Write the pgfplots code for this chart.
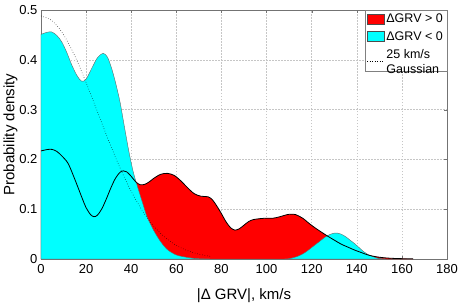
\documentclass[border=0pt]{standalone}
\usepackage{fontspec}
\setmainfont{Liberation Sans}
\usepackage{pgfplots}
\pgfplotsset{compat=1.18}
\definecolor{mred}{rgb}{1,0,0}
\definecolor{mcyan}{rgb}{0,1,1}
\begin{document}
\begin{tikzpicture}
\begin{axis}[
  scale only axis, width=406pt, height=249pt,
  xmin=0, xmax=180, ymin=0, ymax=0.5,
  xtick={0,20,40,60,80,100,120,140,160,180},
  ytick={0,0.1,0.2,0.3,0.4,0.5},
  grid=major,
  grid style={gray!45, dash pattern=on 1.5pt off 1.5pt, line width=0.4pt},
  axis line style={black!55},
  tick style={black!55}, tick align=inside, major tick length=3pt,
  ticklabel style={font=\fontsize{13}{15}\selectfont},
  xticklabel style={yshift=-2pt},
  /pgf/number format/assume math mode=true,
  yticklabel style={/pgf/number format/fixed, /pgf/number format/precision=1},
  xlabel={|Δ GRV|, km/s},
  ylabel={Probability density},
  label style={font=\fontsize{15}{18}\selectfont},
  xlabel style={yshift=-8pt},
  ylabel style={yshift=-5pt},
  legend cell align=left,
  legend style={at={(rel axis cs:1,1)}, anchor=north east,
    draw=black!50, font=\fontsize{12.5}{14}\selectfont, inner sep=2pt, row sep=3pt},
]
% red: density for Delta GRV > 0 (filled)
\addplot[fill=mred, draw=none, smooth,
  legend image code/.code={\draw[fill=mred, draw=black!70, line width=0.4pt] (0pt,-5pt) rectangle (17pt,5pt);}]
table {
x y
0 0.217
3 0.220
5 0.220
7 0.216
9 0.208
12 0.192
15 0.160
18 0.125
20 0.103
22 0.089
23.5 0.085
25 0.088
27 0.101
29 0.121
31 0.143
33 0.162
35 0.174
36.5 0.177
38 0.175
40 0.166
42 0.155
44 0.149
46 0.150
48 0.155
50 0.162
53 0.170
56 0.172
59 0.168
62 0.157
65 0.143
68 0.131
71 0.126
74 0.125
76 0.119
78 0.106
80 0.091
82 0.075
84 0.063
86 0.058
88 0.061
90 0.068
92 0.075
94 0.079
97 0.081
100 0.082
103 0.082
106 0.085
109 0.089
111 0.090
113 0.089
116 0.082
119 0.071
122 0.061
125 0.052
127.4 0.045
130 0.038
133 0.030
136 0.024
139 0.018
142 0.013
145 0.008
148 0.005
151 0.003
155 0.0015
160 0.0007
165 0.0003
} \closedcycle;
\addlegendentry{ΔGRV > 0}
% cyan: density for Delta GRV < 0
\addplot[fill=mcyan, draw=black!60, line width=0.4pt, smooth,
  legend image code/.code={\draw[fill=mcyan, draw=black!70, line width=0.4pt] (0pt,-5pt) rectangle (17pt,5pt);}]
table {
x y
0 0.451
2.5 0.455
4.7 0.456
7 0.449
9.2 0.436
11.5 0.414
13.6 0.390
16 0.368
18 0.357
20 0.361
22.5 0.383
25 0.404
27.6 0.413
29.5 0.405
31.3 0.383
33 0.355
35 0.316
37 0.265
39 0.215
41 0.173
43 0.142
45 0.113
47 0.085
50 0.057
53 0.035
56 0.019
60 0.008
65 0.003
70 0.0005
75 0
90 0
108 0
110 0.001
113 0.004
116 0.010
118 0.016
120 0.023
122 0.030
124 0.037
126 0.044
128 0.049
130 0.052
131.5 0.052
133 0.050
135 0.045
137 0.038
139 0.031
141 0.023
143 0.015
145 0.009
147 0.005
149 0.002
151 0.0005
153 0
} \closedcycle;
\addlegendentry{ΔGRV < 0}
% black outline of the positive density
\addplot[black, line width=0.8pt, smooth, forget plot]
table {
x y
0 0.217
3 0.220
5 0.220
7 0.216
9 0.208
12 0.192
15 0.160
18 0.125
20 0.103
22 0.089
23.5 0.085
25 0.088
27 0.101
29 0.121
31 0.143
33 0.162
35 0.174
36.5 0.177
38 0.175
40 0.166
42 0.155
44 0.149
46 0.150
48 0.155
50 0.162
53 0.170
56 0.172
59 0.168
62 0.157
65 0.143
68 0.131
71 0.126
74 0.125
76 0.119
78 0.106
80 0.091
82 0.075
84 0.063
86 0.058
88 0.061
90 0.068
92 0.075
94 0.079
97 0.081
100 0.082
103 0.082
106 0.085
109 0.089
111 0.090
113 0.089
116 0.082
119 0.071
122 0.061
125 0.052
127.4 0.045
130 0.038
133 0.030
136 0.024
139 0.018
142 0.013
145 0.008
148 0.005
151 0.003
155 0.0015
160 0.0007
165 0.0003
};
% 25 km/s Gaussian (dotted)
\addplot[black, dotted, line width=0.5pt, smooth,
  legend image code/.code={\draw[black, dotted, line width=0.5pt] (0pt,-3pt) -- (17pt,-3pt);}]
table {
x y
0 0.4880
5 0.4783
10 0.4505
15 0.4076
20 0.3544
25 0.2960
30 0.2376
35 0.1832
40 0.1357
45 0.0966
50 0.0660
55 0.0434
60 0.0274
65 0.0166
70 0.0097
75 0.0054
};
\addlegendentry{\begin{tabular}{@{}l@{}}25 km/s\\[1pt]Gaussian\end{tabular}}
\end{axis}
\pgfresetboundingbox
\path (-41pt,-44pt) rectangle (422pt,259pt);
\end{tikzpicture}
\end{document}
